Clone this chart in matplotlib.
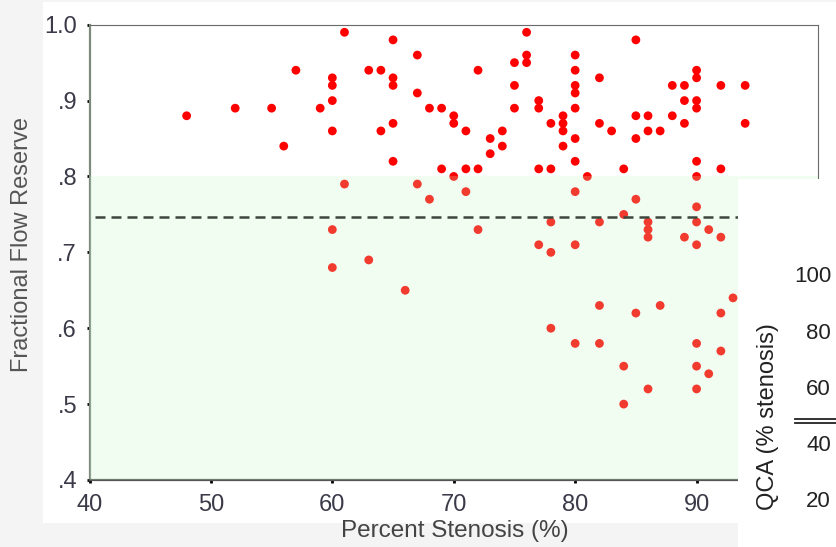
"""
FFR vs percent stenosis scatter (recreation)
"""

import matplotlib
matplotlib.use("Agg")
import matplotlib.pyplot as plt
from matplotlib.patches import Rectangle
from matplotlib.lines import Line2D

plt.rcParams['font.family'] = ['Liberation Sans', 'DejaVu Sans']

# Data
stenosis = [48, 52, 55, 56, 57, 59,
            60, 60, 60, 60, 60, 60,
            61, 61, 63, 63, 64, 64,
            65, 65, 65, 65, 65, 66,
            67, 67, 67, 68, 68, 69, 69,
            70, 70, 70, 71, 71, 71,
            72, 72, 72, 73, 73, 74, 74,
            75, 75, 75, 76, 76, 76,
            77, 77, 77, 77,
            78, 78, 78, 78, 78,
            79, 79, 79, 79,
            80, 80, 80, 80, 80, 80, 80, 80, 80, 80,
            81,
            82, 82, 82, 82, 82,
            83,
            84, 84, 84, 84,
            85, 85, 85, 85, 85,
            86, 86, 86, 86, 86, 86,
            87, 87, 88, 88,
            89, 89, 89, 89,
            90, 90, 90, 90, 90, 90, 90, 90, 90, 90, 90, 90,
            91, 91,
            92, 92, 92, 92, 92,
            93, 94, 94]
ffr = [.88, .89, .89, .84, .94, .89,
       .93, .92, .90, .86, .73, .68,
       .99, .79, .94, .69, .94, .86,
       .98, .93, .92, .87, .82, .65,
       .96, .91, .79, .89, .77, .89, .81,
       .88, .87, .80, .86, .81, .78,
       .94, .81, .73, .85, .83, .86, .84,
       .95, .92, .89, .99, .96, .95,
       .90, .89, .81, .71,
       .87, .81, .74, .70, .60,
       .88, .87, .86, .84,
       .96, .94, .92, .91, .89, .85, .82, .78, .71, .58,
       .80,
       .93, .87, .74, .63, .58,
       .86,
       .81, .75, .55, .50,
       .98, .88, .85, .77, .62,
       .88, .86, .74, .73, .72, .52,
       .86, .63, .92, .88,
       .92, .90, .87, .72,
       .94, .93, .90, .89, .82, .80, .76, .74, .71, .58, .55, .52,
       .73, .54,
       .92, .81, .72, .62, .57,
       .64, .92, .87]

x_ticks = [40, 50, 60, 70, 80, 90]
y_ticks = [.4, .5, .6, .7, .8, .9, 1.0]
y_tick_labels = ['.4', '.5', '.6', '.7', '.8', '.9', '1.0']
cutoff = 0.8
mean_line = 0.747

qca_ticks = ['100', '80', '60', '40', '20']

W, H = 836, 547


def px(x, y):
    """pixel (from top-left) -> figure fraction"""
    return x / W, 1 - y / H


fig = plt.figure(figsize=(W / 100, H / 100), dpi=100, facecolor='#f4f4f4')

# white panel behind the chart
fig.add_artist(Rectangle(px(43, 523), (W - 43) / W, 521 / H,
                         transform=fig.transFigure, facecolor='white',
                         edgecolor='none', zorder=-5))

ax = fig.add_axes([89.5 / W, 1 - 480 / H, (818 - 89.5) / W, (480 - 24.7) / H])
ax.set_facecolor('white')
ax.set_xlim(40, 100)
ax.set_ylim(0.4, 1.0)

ax.scatter(stenosis, ffr, s=40, color='#ff0000', edgecolors='none', zorder=2)

# green zone below FFR 0.8
ax.axhspan(0.4, cutoff, facecolor=(200 / 255, 247 / 255, 200 / 255),
           alpha=0.24, edgecolor='none', zorder=3)
ax.axhline(mean_line, xmin=0.008, color='#3c463c', linestyle=(0, (4, 2.4)),
           linewidth=1.8, zorder=4)

ax.set_xticks(x_ticks)
ax.set_yticks(y_ticks)
ax.set_yticklabels(y_tick_labels)
ax.tick_params(axis='both', length=2, width=2, color='black',
               labelsize=17, labelcolor='#3a3a48')
ax.tick_params(axis='x', pad=8)
ax.tick_params(axis='y', pad=7)

ax.spines['left'].set_color('#7f8a7f')
ax.spines['left'].set_linewidth(1.6)
ax.spines['bottom'].set_color('#555555')
ax.spines['bottom'].set_linewidth(1.6)
ax.spines['top'].set_color('#6a6a6a')
ax.spines['right'].set_color('#6a6a6a')

fig.text(*px(22, 245), 'Fractional Flow Reserve', rotation=90,
         ha='center', va='center', fontsize=17, color='#555555')
fig.text(*px(455, 531), 'Percent Stenosis (%)', ha='center', va='center',
         fontsize=17.5, color='#444444')

# white block on the right with the QCA axis fragment
fig.add_artist(Rectangle(px(738, 547), (W - 738) / W, (547 - 179) / H,
                         transform=fig.transFigure, facecolor='white',
                         edgecolor='none', zorder=5))
fig.text(*px(768, 417), 'QCA (% stenosis)', rotation=90, ha='center',
         va='center', fontsize=17, color='#222222', zorder=6)
for i, lab in enumerate(qca_ticks):
    fig.text(*px(831, 277 + i * 56.2), lab, ha='right', va='center',
             fontsize=16, color='#222222', zorder=6)
for yy in (418.5, 422.5):
    fig.add_artist(Line2D([795 / W, 1.0], [1 - yy / H] * 2,
                          transform=fig.transFigure, color='#222222',
                          linewidth=1.3, zorder=6))

fig.savefig('out.png', dpi=100, facecolor=fig.get_facecolor())
